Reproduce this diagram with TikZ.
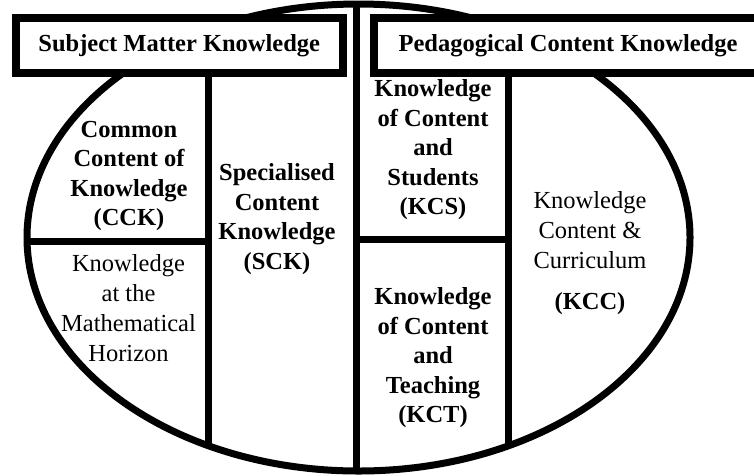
\documentclass[tikz,border=0pt]{standalone}
\usepackage{fontspec}
\setmainfont{Liberation Serif}
\tikzset{
  divider/.style={line width=7pt},
  headbox/.style={draw,line width=8pt,fill=white,inner sep=0pt,
    font=\fontsize{24.5}{29.5}\selectfont\bfseries},
  boldtext/.style={align=center,font=\fontsize{24.5}{29.5}\selectfont\bfseries},
  plaintext/.style={align=center,font=\fontsize{24.5}{30}\selectfont}
}
\begin{document}
\begin{tikzpicture}[line cap=butt,line join=miter,x=1pt,y=-1pt]
  \useasboundingbox (0,0) rectangle (754,475);
  \clip (0,0) rectangle (754,475);
  % dividers inside the ellipse
  \begin{scope}
    \clip (358.5,237.5) ellipse [x radius=331.5pt, y radius=233.5pt];
    \draw[divider] (208.5,70) -- (208.5,480);
    \draw[divider] (356.5,0) -- (356.5,480);
    \draw[divider] (508.5,70) -- (508.5,480);
    \draw[divider] (0,241.5) -- (212,241.5);
    \draw[divider] (353,239) -- (512,239);
  \end{scope}
  \draw[divider] (358.5,237.5) ellipse [x radius=331.5pt, y radius=233.5pt];
  % header boxes
  \node[headbox,minimum width=326.5pt,minimum height=54.5pt] (smk) at (179.25,45.25) {Subject Matter Knowledge};
  \node[headbox,minimum width=388pt,minimum height=54.5pt] (pck) at (568,45.25) {Pedagogical Content Knowledge};
  % cells
  \node[boldtext] (cck) at (129,176) {Common\\Content of\\Knowledge\\(CCK)};
  \node[plaintext] (kmh) at (128.5,308) {Knowledge\\at the\\Mathematical\\Horizon};
  \node[boldtext] (sck) at (277,219) {Specialised\\Content\\Knowledge\\(SCK)};
  \node[boldtext] (kcs) at (433,150) {Knowledge\\of Content\\and\\Students\\(KCS)};
  \node[boldtext] (kct) at (433,358) {Knowledge\\of Content\\and\\Teaching\\(KCT)};
  \node[plaintext] (kcc) at (590,253) {Knowledge\\Content \&\\Curriculum\\[11pt]\textbf{(KCC)}};
\end{tikzpicture}
\end{document}
